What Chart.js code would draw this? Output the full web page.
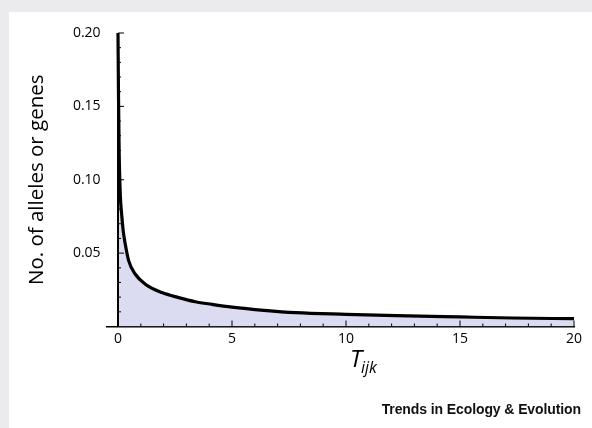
<!DOCTYPE html>
<html>
<head>
<meta charset="utf-8">
<script src="https://cdn.jsdelivr.net/npm/chart.js@4.4.0/dist/chart.umd.min.js"></script>
<style>
  html, body { margin: 0; padding: 0; }
  body { width: 592px; height: 428px; background: #ebebed; position: relative; overflow: hidden; }
  .panel { position: absolute; left: 9px; top: 12px; right: 0; bottom: 0; background: #fff; }
  .chart-container { position: absolute; left: 0; top: 0; width: 592px; height: 428px; }
  .brand {
    position: absolute; right: 11px; top: 401px;
    font-family: "Liberation Sans", Arial, sans-serif; font-weight: bold;
    font-size: 14px; letter-spacing: -0.1px; color: #111;
  }
</style>
</head>
<body>
<div class="panel"></div>
<div class="chart-container"><canvas id="chart"></canvas></div>
<div class="brand">Trends in Ecology &amp; Evolution</div>
<script>
// values
const tValues = [0, 0.02, 0.05, 0.1, 0.16, 0.23, 0.32, 0.47, 0.76, 1.2, 1.93, 2.66, 3.39, 4.12, 5, 6.4, 7.8, 10, 12.2, 15, 17.3, 20];
const geneCounts = [0.2, 0.16, 0.12, 0.09, 0.0765, 0.065, 0.056, 0.0447, 0.0356, 0.0288, 0.0231, 0.0197, 0.0169, 0.0151, 0.0132, 0.011, 0.0094, 0.0083, 0.0074, 0.0065, 0.0058, 0.0053];
const xTickLabels = [0, 5, 10, 15, 20];
const yTickLabels = [0.05, 0.10, 0.15, 0.20];

const fontFamily = '"Open Sans", "DejaVu Sans", sans-serif';

// inward tick marks, y axis line at T = 0 and the T_ijk label
const axisMarks = {
  id: 'axisMarks',
  afterDatasetsDraw(chart) {
    const { ctx, scales: { x, y } } = chart;
    const x0 = x.getPixelForValue(0);
    const yb = y.getPixelForValue(0);
    ctx.save();
    ctx.strokeStyle = '#000';
    ctx.lineWidth = 2;
    ctx.beginPath();
    ctx.moveTo(x0, yb);
    ctx.lineTo(x0, y.getPixelForValue(0.2));
    ctx.stroke();

    ctx.lineWidth = 1;
    ctx.beginPath();
    for (let v = 1; v <= 20; v++) {
      const px = x.getPixelForValue(v);
      const len = v % 5 === 0 ? 6 : 3;
      ctx.moveTo(px, yb);
      ctx.lineTo(px, yb - len);
    }
    for (let i = 1; i <= 20; i++) {
      const py = y.getPixelForValue(i / 100);
      const len = i % 5 === 0 ? 6 : 3;
      ctx.moveTo(x0, py);
      ctx.lineTo(x0 + len, py);
    }
    ctx.stroke();

    // axis title T_ijk
    const tx = x.getPixelForValue(10) + 4;
    ctx.fillStyle = '#000';
    ctx.textBaseline = 'alphabetic';
    ctx.font = 'italic 24px ' + fontFamily;
    ctx.fillText('T', tx, 367);
    const w = ctx.measureText('T').width;
    ctx.font = 'italic 16px ' + fontFamily;
    ctx.fillText('ijk', tx + w - 1, 373);
    ctx.restore();
  }
};

const ctx = document.getElementById('chart').getContext('2d');

new Chart(ctx, {
  type: 'scatter',
  data: {
    datasets: [
      {
        data: tValues.map((t, i) => ({ x: t, y: geneCounts[i] })),
        showLine: true,
        borderColor: '#000',
        borderWidth: 3.2,
        backgroundColor: 'rgb(219, 219, 242)',
        fill: 'origin',
        pointRadius: 0,
        cubicInterpolationMode: 'monotone',
      },
      {
        // right edge of the filled area
        data: [
          { x: tValues[tValues.length - 1], y: geneCounts[geneCounts.length - 1] },
          { x: tValues[tValues.length - 1], y: 0 },
        ],
        showLine: true,
        borderColor: '#222',
        borderWidth: 1.5,
        pointRadius: 0,
        fill: false,
      },
    ],
  },
  options: {
    responsive: true,
    maintainAspectRatio: false,
    animation: false,
    layout: { padding: { left: 0, top: 33, right: 18, bottom: 0 } },
    plugins: {
      legend: { display: false },
      tooltip: { enabled: false },
    },
    scales: {
      x: {
        type: 'linear',
        min: -0.5,
        max: 20,
        afterBuildTicks: (scale) => { scale.ticks = xTickLabels.map(v => ({ value: v })); },
        afterFit: (scale) => { scale.height = 101.5; },
        grid: { display: false, drawTicks: false },
        border: { display: true, color: '#000', width: 1.5 },
        ticks: {
          color: '#000',
          padding: 4,
          maxRotation: 0,
          font: { family: fontFamily, size: 14 },
        },
      },
      y: {
        min: 0,
        max: 0.2,
        afterBuildTicks: (scale) => { scale.ticks = yTickLabels.map(v => ({ value: v })); },
        afterFit: (scale) => { scale.width = 106.6; },
        grid: { display: false, drawTicks: false },
        border: { display: false },
        ticks: {
          color: '#000',
          padding: 6,
          font: { family: fontFamily, size: 14 },
          callback: (v) => v.toFixed(2),
        },
        title: {
          display: true,
          text: 'No. of alleles or genes',
          color: '#000',
          padding: { top: 25, bottom: 0 },
          font: { family: fontFamily, size: 20.5 },
        },
      },
    },
  },
  plugins: [axisMarks],
});
</script>
</body>
</html>
